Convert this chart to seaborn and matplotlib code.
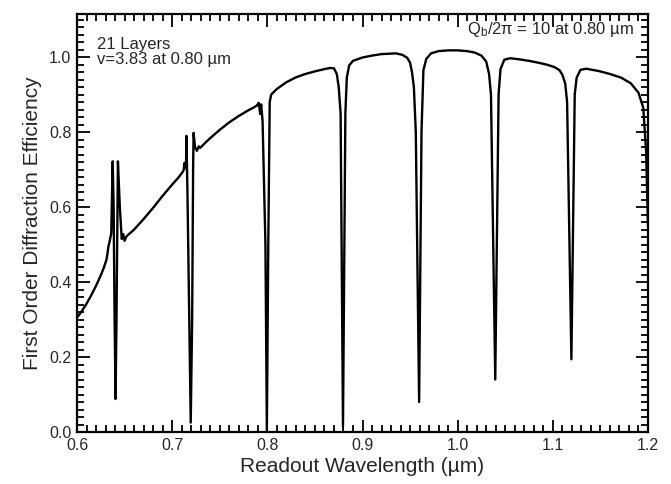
import matplotlib
matplotlib.use("Agg")
import matplotlib.pyplot as plt
import seaborn as sns
import pandas as pd
from matplotlib.ticker import MultipleLocator, FormatStrFormatter

wavelength = [
    0.600, 0.605, 0.610, 0.615, 0.620, 0.625, 0.628, 0.631, 0.632, 0.633,
    0.634, 0.636, 0.6375, 0.6385, 0.6395, 0.6405, 0.6415, 0.6425, 0.643, 0.645,
    0.647, 0.6485, 0.650, 0.652, 0.660, 0.670, 0.680, 0.690, 0.700, 0.706,
    0.710, 0.712, 0.713, 0.7145, 0.715, 0.716, 0.718, 0.7195, 0.721, 0.722,
    0.7225, 0.724, 0.726, 0.728, 0.7295, 0.735, 0.740, 0.750, 0.760, 0.770,
    0.780, 0.786, 0.789, 0.791, 0.7925, 0.7935, 0.795, 0.798, 0.7995, 0.801,
    0.8025, 0.804, 0.810, 0.820, 0.830, 0.840, 0.850, 0.860, 0.866, 0.870,
    0.873, 0.875, 0.877, 0.8795, 0.882, 0.8835, 0.886, 0.890, 0.900, 0.910,
    0.920, 0.935, 0.942, 0.947, 0.950, 0.952, 0.954, 0.956, 0.9595, 0.962,
    0.964, 0.967, 0.972, 0.980, 0.990, 1.000, 1.010, 1.018, 1.025, 1.030,
    1.033, 1.035, 1.0395, 1.043, 1.045, 1.049, 1.055, 1.065, 1.075, 1.085,
    1.095, 1.102, 1.107, 1.110, 1.113, 1.115, 1.1195, 1.123, 1.125, 1.129,
    1.135, 1.148, 1.160, 1.172, 1.182, 1.190, 1.195, 1.198, 1.200,
]
efficiency = [
    0.305, 0.322, 0.342, 0.365, 0.390, 0.418, 0.437, 0.460, 0.475, 0.495,
    0.505, 0.530, 0.722, 0.600, 0.300, 0.088, 0.300, 0.600, 0.722, 0.600,
    0.515, 0.528, 0.510, 0.522, 0.540, 0.568, 0.598, 0.630, 0.660, 0.677,
    0.690, 0.698, 0.718, 0.703, 0.790, 0.650, 0.300, 0.025, 0.300, 0.700,
    0.798, 0.760, 0.750, 0.762, 0.758, 0.772, 0.784, 0.806, 0.826, 0.843,
    0.858, 0.866, 0.871, 0.878, 0.848, 0.874, 0.830, 0.500, 0.005, 0.500,
    0.880, 0.900, 0.915, 0.933, 0.946, 0.955, 0.962, 0.968, 0.971, 0.970,
    0.955, 0.920, 0.850, 0.015, 0.850, 0.945, 0.978, 0.990, 0.999, 1.004,
    1.008, 1.010, 1.006, 0.998, 0.985, 0.960, 0.920, 0.800, 0.080, 0.800,
    0.965, 0.995, 1.010, 1.016, 1.018, 1.018, 1.016, 1.012, 1.004, 0.988,
    0.955, 0.900, 0.140, 0.900, 0.968, 0.993, 0.997, 0.994, 0.990, 0.985,
    0.979, 0.973, 0.965, 0.953, 0.930, 0.880, 0.194, 0.900, 0.945, 0.966,
    0.969, 0.963, 0.955, 0.945, 0.930, 0.905, 0.865, 0.750, 0.550,
]

x_label = "Readout Wavelength (\u00b5m)"
y_label = "First Order Diffraction Efficiency"
note_left = "21 Layers\nv=3.83 at 0.80 \u00b5m"
note_right = "Q$_b$/2\u03c0 = 10 at 0.80 \u00b5m"

sns.set_style("ticks")
plt.rcParams['font.family'] = ['Liberation Sans', 'DejaVu Sans']
plt.rcParams['mathtext.fontset'] = 'custom'
plt.rcParams['mathtext.rm'] = 'Liberation Sans'
plt.rcParams['mathtext.it'] = 'Liberation Sans'

df = pd.DataFrame({"x": wavelength, "y": efficiency})

fig = plt.figure(figsize=(6.71, 4.84), dpi=100)
ax = fig.add_axes([77/671, 1 - 432/484, 571/671, 418/484])
sns.lineplot(data=df, x="x", y="y", ax=ax, color="black", linewidth=1.7,
             estimator=None, sort=False)

ax.set_xlim(0.6, 1.2)
ax.set_ylim(0.0, 1.115)
ax.xaxis.set_major_locator(MultipleLocator(0.1))
ax.xaxis.set_minor_locator(MultipleLocator(0.01))
ax.yaxis.set_major_locator(MultipleLocator(0.2))
ax.yaxis.set_minor_locator(MultipleLocator(0.02))
ax.xaxis.set_major_formatter(FormatStrFormatter('%.1f'))
ax.yaxis.set_major_formatter(FormatStrFormatter('%.1f'))
ax.tick_params(which='both', direction='in', top=True, right=True,
               color='black', width=1.3)
ax.tick_params(which='major', length=9, labelsize=11.5, pad=4)
ax.tick_params(which='minor', length=5)
for s in ax.spines.values():
    s.set_linewidth(1.6)
    s.set_color('black')

ax.set_xlabel(x_label, fontsize=15, labelpad=3)
ax.set_ylabel(y_label, fontsize=15, labelpad=5)

ax.text(0.035, 0.945, note_left, transform=ax.transAxes, ha='left', va='top',
        fontsize=12, linespacing=1.0)
ax.text(0.975, 0.985, note_right, transform=ax.transAxes, ha='right', va='top',
        fontsize=12)

fig.savefig("out.png", dpi=100)
